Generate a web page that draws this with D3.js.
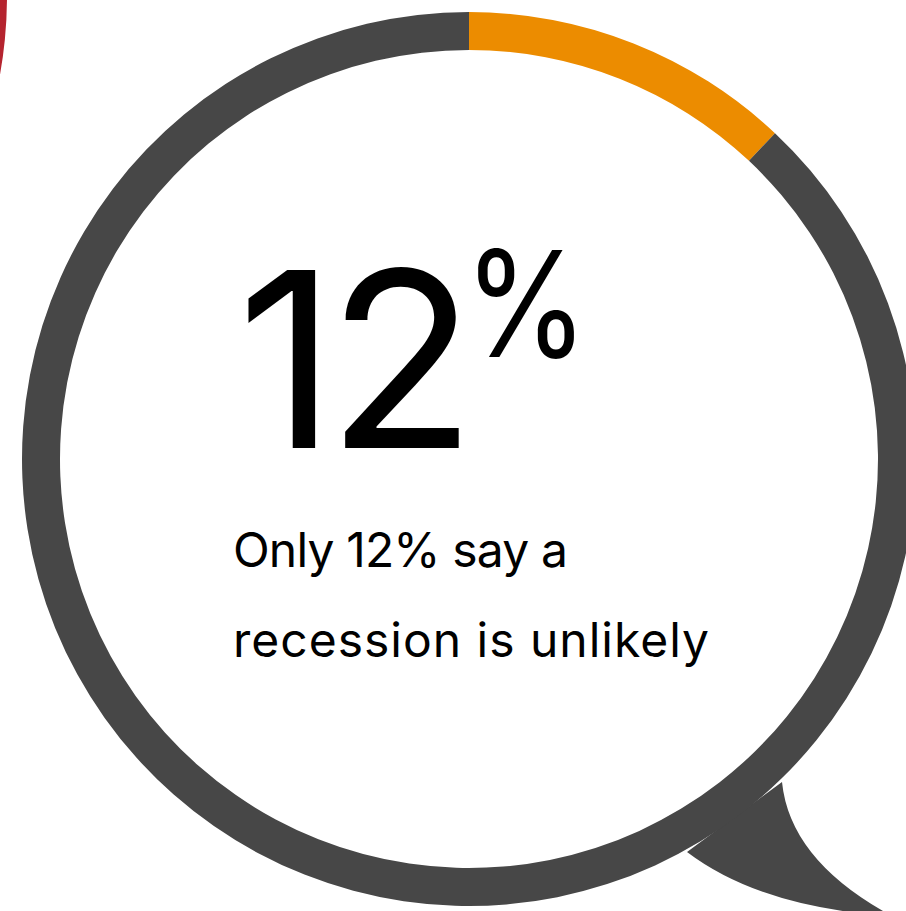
<!DOCTYPE html>
<html>
<head>
<meta charset="utf-8">
<script src="https://cdn.jsdelivr.net/npm/d3@7"></script>
<style>
  html, body { margin: 0; padding: 0; background: #fff; overflow: hidden; }
  svg { display: block; }
</style>
</head>
<body>
<svg id="chart" width="906" height="911"></svg>
<script>
// Share of respondents saying a recession is unlikely
const categories = ["Unlikely", "Other"];
const values = [12, 88];
const colors = ["#ec8c00", "#474747"];
const headline = "12";
const headlineUnit = "%";
const captionLines = ["Only 12% say a", "recession is unlikely"];
const captionWidths = [335, 476];

const svg = d3.select("#chart");
const cx = 469, cy = 459;
const rOuter = 447, rInner = 409;
const font = "Inter, 'Noto Sans', sans-serif";

// neighbouring bubble ring, just visible at the top-left edge
svg.append("path")
  .attr("transform", "translate(-440,-4)")
  .attr("d", d3.arc().innerRadius(rInner).outerRadius(rOuter).startAngle(0).endAngle(2 * Math.PI)())
  .attr("fill", "#b5242f");

// speech-bubble tail (drawn under the ring)
svg.append("path")
  .attr("d", "M782,782 Q790,861 892,916 Q761,908 687,852 Z")
  .attr("fill", "#474747");

const g = svg.append("g").attr("transform", `translate(${cx},${cy})`);
const pie = d3.pie().sort(null).value(d => d)(values);
const arc = d3.arc().innerRadius(rInner).outerRadius(rOuter);

g.selectAll("path.seg")
  .data(pie)
  .join("path")
  .attr("class", "seg")
  .attr("d", arc)
  .attr("fill", (d, i) => colors[i]);

// big number
svg.append("text")
  .attr("x", 237)
  .attr("y", 448)
  .attr("font-family", font)
  .attr("font-size", 245)
  .attr("letter-spacing", -10)
  .attr("fill", "#000")
  .text(headline);

// raised percent sign, slightly condensed
svg.append("text")
  .attr("transform", "translate(464,357) scale(0.86,1)")
  .attr("font-family", font)
  .attr("font-size", 147)
  .attr("fill", "#000")
  .text(headlineUnit);

// caption
const cap = svg.append("g")
  .attr("font-family", font)
  .attr("font-size", 48)
  .attr("fill", "#000");
cap.selectAll("text")
  .data(captionLines)
  .join("text")
  .attr("x", 233)
  .attr("y", (d, i) => 567 + i * 90)
  .attr("textLength", (d, i) => captionWidths[i])
  .attr("lengthAdjust", "spacing")
  .text(d => d);
</script>
</body>
</html>
